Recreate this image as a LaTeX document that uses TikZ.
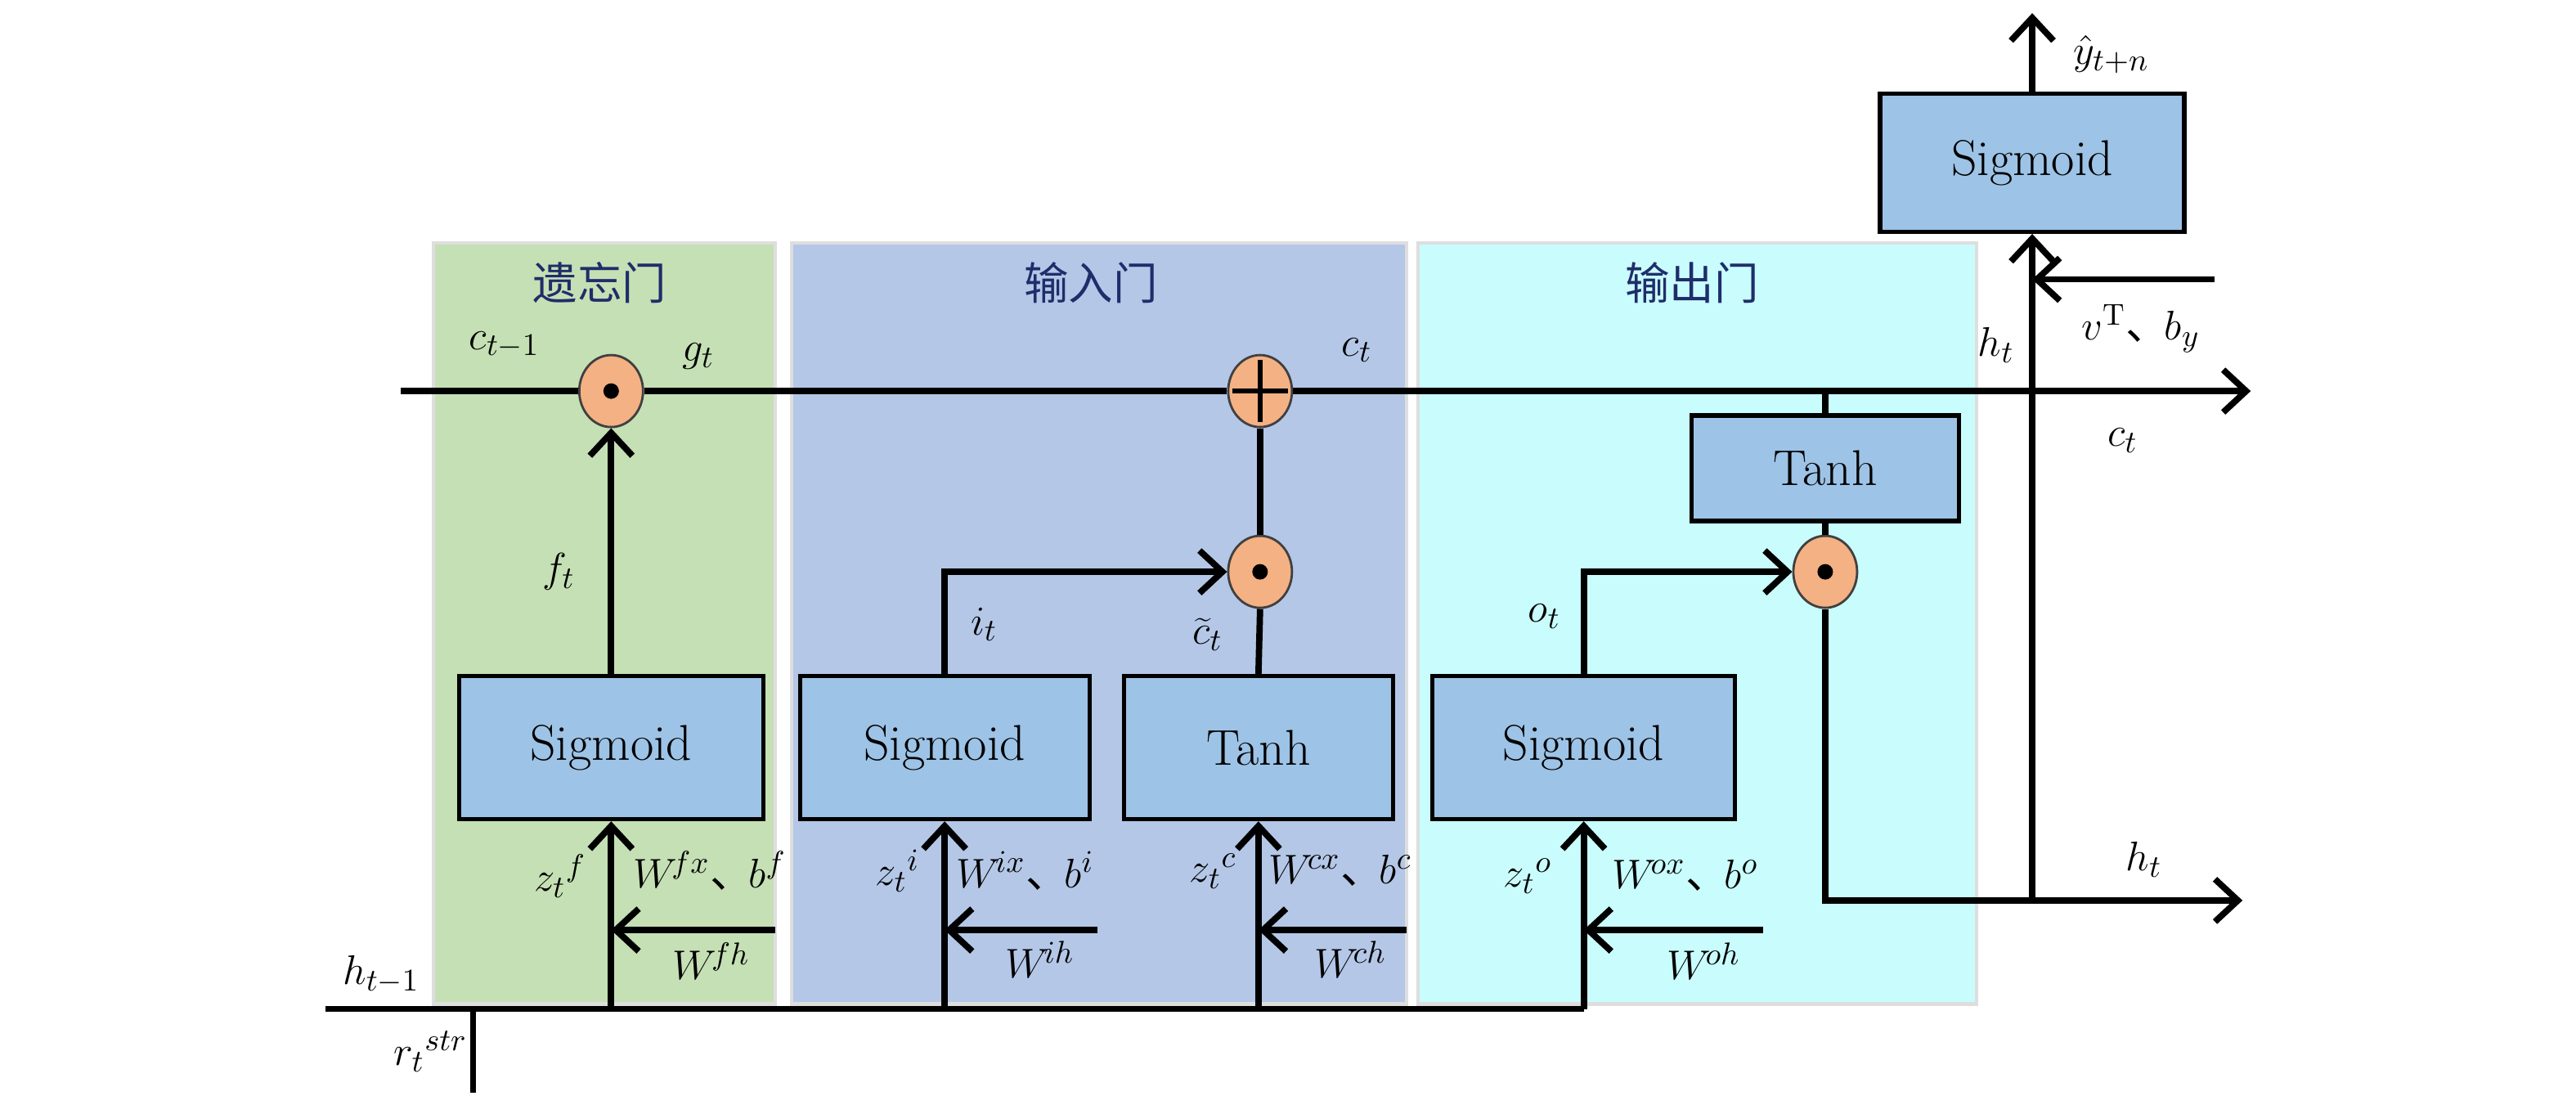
\documentclass[tikz,border=0pt]{standalone}
\usepackage{fontspec}
\newfontfamily\cjk{Noto Sans CJK SC}
\usetikzlibrary{arrows.meta,shapes.geometric}
\definecolor{pgreen}{HTML}{C5E0B4}
\definecolor{pblue}{HTML}{B4C7E7}
\definecolor{pcyan}{HTML}{C9FCFC}
\definecolor{boxblue}{HTML}{9DC3E6}
\definecolor{opfill}{HTML}{F4B183}
\definecolor{navy}{HTML}{1F2D6B}
\newcommand{\dun}{\makebox[0.9em][l]{\cjk 、}}
\begin{document}
\begin{tikzpicture}[x=0.2009mm,y=-0.2009mm,
  wire/.style={line width=2.2pt},
  arr/.style={wire,-{Straight Barb[length=2.8mm,width=5.2mm]}},
  panel/.style={draw=black!13, line width=1.2pt},
  fbox/.style={draw=black, line width=1.5pt, fill=boxblue, minimum height=17.5mm, inner sep=0, font=\fontsize{17.5}{20}\selectfont},
  op/.style={ellipse, draw=black!75, line width=0.8pt, fill=opfill, minimum width=7.8mm, minimum height=8.8mm, inner sep=0},
  lab/.style={inner sep=0, font=\fontsize{15}{18}\selectfont},
  ttl/.style={inner sep=0, text=navy, font=\cjk\fontsize{15.5}{18}\selectfont}
]
\useasboundingbox (0,0) rectangle (1568,667);
\fill[white] (0,0) rectangle (1568,667);
% panels
\draw[panel, fill=pgreen] (264,148) rectangle (472,611);
\draw[panel, fill=pblue] (482,148) rectangle (856,611);
\draw[panel, fill=pcyan] (863,148) rectangle (1203,611);
\node[ttl] (t1) at (365,172) {遗忘门};
\node[ttl] (t2) at (664,172) {输入门};
\node[ttl] (t3) at (1030,172) {输出门};
% boxes
\node[fbox, minimum width=37.2mm] (sf) at (372,455) {Sigmoid};
\node[fbox, minimum width=35.4mm] (si) at (575,455) {Sigmoid};
\node[fbox, minimum width=32.9mm] (tc) at (766,455) {Tanh};
\node[fbox, minimum width=37.0mm] (so) at (964,455) {Sigmoid};
\node[fbox, minimum width=32.7mm, minimum height=12.9mm] (th) at (1111,285) {Tanh};
\node[fbox, minimum width=37.2mm, minimum height=16.9mm] (sy) at (1237,99) {Sigmoid};
% operators
\node[op] (mf) at (372,238) {};
\node[op] (plus) at (767,238) {};
\node[op] (mi) at (767,348) {};
\node[op] (mo) at (1111,348) {};
\fill (mf) circle (0.95mm);
\fill (mi) circle (0.95mm);
\fill (mo) circle (0.95mm);
\draw[line width=1.6pt] ([yshift=-3.8mm]plus.center) -- ([yshift=3.8mm]plus.center);
\draw[line width=1.6pt] ([xshift=-3.4mm]plus.center) -- ([xshift=3.4mm]plus.center);
% coordinates
\coordinate (cin) at (244,238);
\coordinate (cout) at (1370,238);
\coordinate (hin) at (198,614);
\coordinate (hout) at (1365,548);
\coordinate (rbot) at (288,665);
\coordinate (wf) at (472,566);
\coordinate (wi) at (668,566);
\coordinate (wc) at (856,566);
\coordinate (wo) at (1073,566);
\coordinate (vy) at (1348,170);
\coordinate (ytop) at (1237,8);
% cell state line
\draw[wire] (cin) -- (mf.west);
\draw[wire] (mf.east) -- (plus.west);
\draw[arr] (plus.east) -- (cout);
% forget gate
\draw[arr] (sf.north) -- (mf.south);
% input gate
\draw[arr] (si.north) |- (mi.west);
\draw[wire] (tc.north) -- (mi.south);
\draw[wire] (mi.north) -- (plus.south);
% output gate
\draw[arr] (so.north) |- (mo.west);
\draw[wire] (th.north |- cin) -- (th.north);
\draw[wire] (th.south) -- (mo.north);
\draw[arr] (mo.south) |- (hout);
% final output
\draw[arr] (sy.south |- hout) -- (sy.south);
\draw[arr] (sy.north) -- (ytop);
\draw[arr] (vy) -- (sy.south |- vy);
% bottom input line
\draw[wire] (hin) -- (so.south |- hin);
\draw[wire] (rbot |- hin) -- (rbot);
\draw[arr] (sf.south |- hin) -- (sf.south);
\draw[arr] (si.south |- hin) -- (si.south);
\draw[arr] (tc.south |- hin) -- (tc.south);
\draw[arr] (so.south |- hin) -- (so.south);
% recurrent weight inputs
\draw[arr] (wf) -- (sf.south |- wf);
\draw[arr] (wi) -- (si.south |- wi);
\draw[arr] (wc) -- (tc.south |- wc);
\draw[arr] (wo) -- (so.south |- wo);
% labels
\node[lab] at (307,210) {$c_{t-1}$};
\node[lab] at (425,217) {$g_t$};
\node[lab] at (826,213) {$c_t$};
\node[lab] at (340,348) {$f_t$};
\node[lab] at (599,380) {$i_t$};
\node[lab] at (735,386) {$\widetilde{c}_t$};
\node[lab] at (940,375) {$o_t$};
\node[lab, anchor=east] at (357,533) {${z_t}^{f}$};
\node[lab, anchor=west] at (385,530) {$W^{\!fx}$\dun$b^f$};
\node[lab] at (433,585) {$W^{\!fh}$};
\node[lab, anchor=east] at (560,530) {${z_t}^{i}$};
\node[lab, anchor=west] at (582,530) {$W^{\!ix}$\dun$b^i$};
\node[lab] at (633,584) {$W^{\!ih}$};
\node[lab, anchor=east] at (753,530) {${z_t}^{c}$};
\node[lab, anchor=west] at (772,530) {$W^{\!cx}$\dun$b^c$};
\node[lab] at (822,584) {$W^{\!ch}$};
\node[lab, anchor=east] at (945,533) {${z_t}^{o}$};
\node[lab, anchor=west] at (981,533) {$W^{\!ox}$\dun$b^o$};
\node[lab] at (1037,585) {$W^{\!oh}$};
\node[lab] at (1305,523) {$h_t$};
\node[lab] at (232,593) {$h_{t-1}$};
\node[lab] at (262,640) {${r_t}^{str}$};
\node[lab] at (1285,33) {$\hat{y}_{t+n}$};
\node[lab] at (1303,200) {$v^{\mathrm{T}}$\dun$b_y$};
\node[lab] at (1215,210) {$h_t$};
\node[lab] at (1292,268) {$c_t$};
\end{tikzpicture}
\end{document}
